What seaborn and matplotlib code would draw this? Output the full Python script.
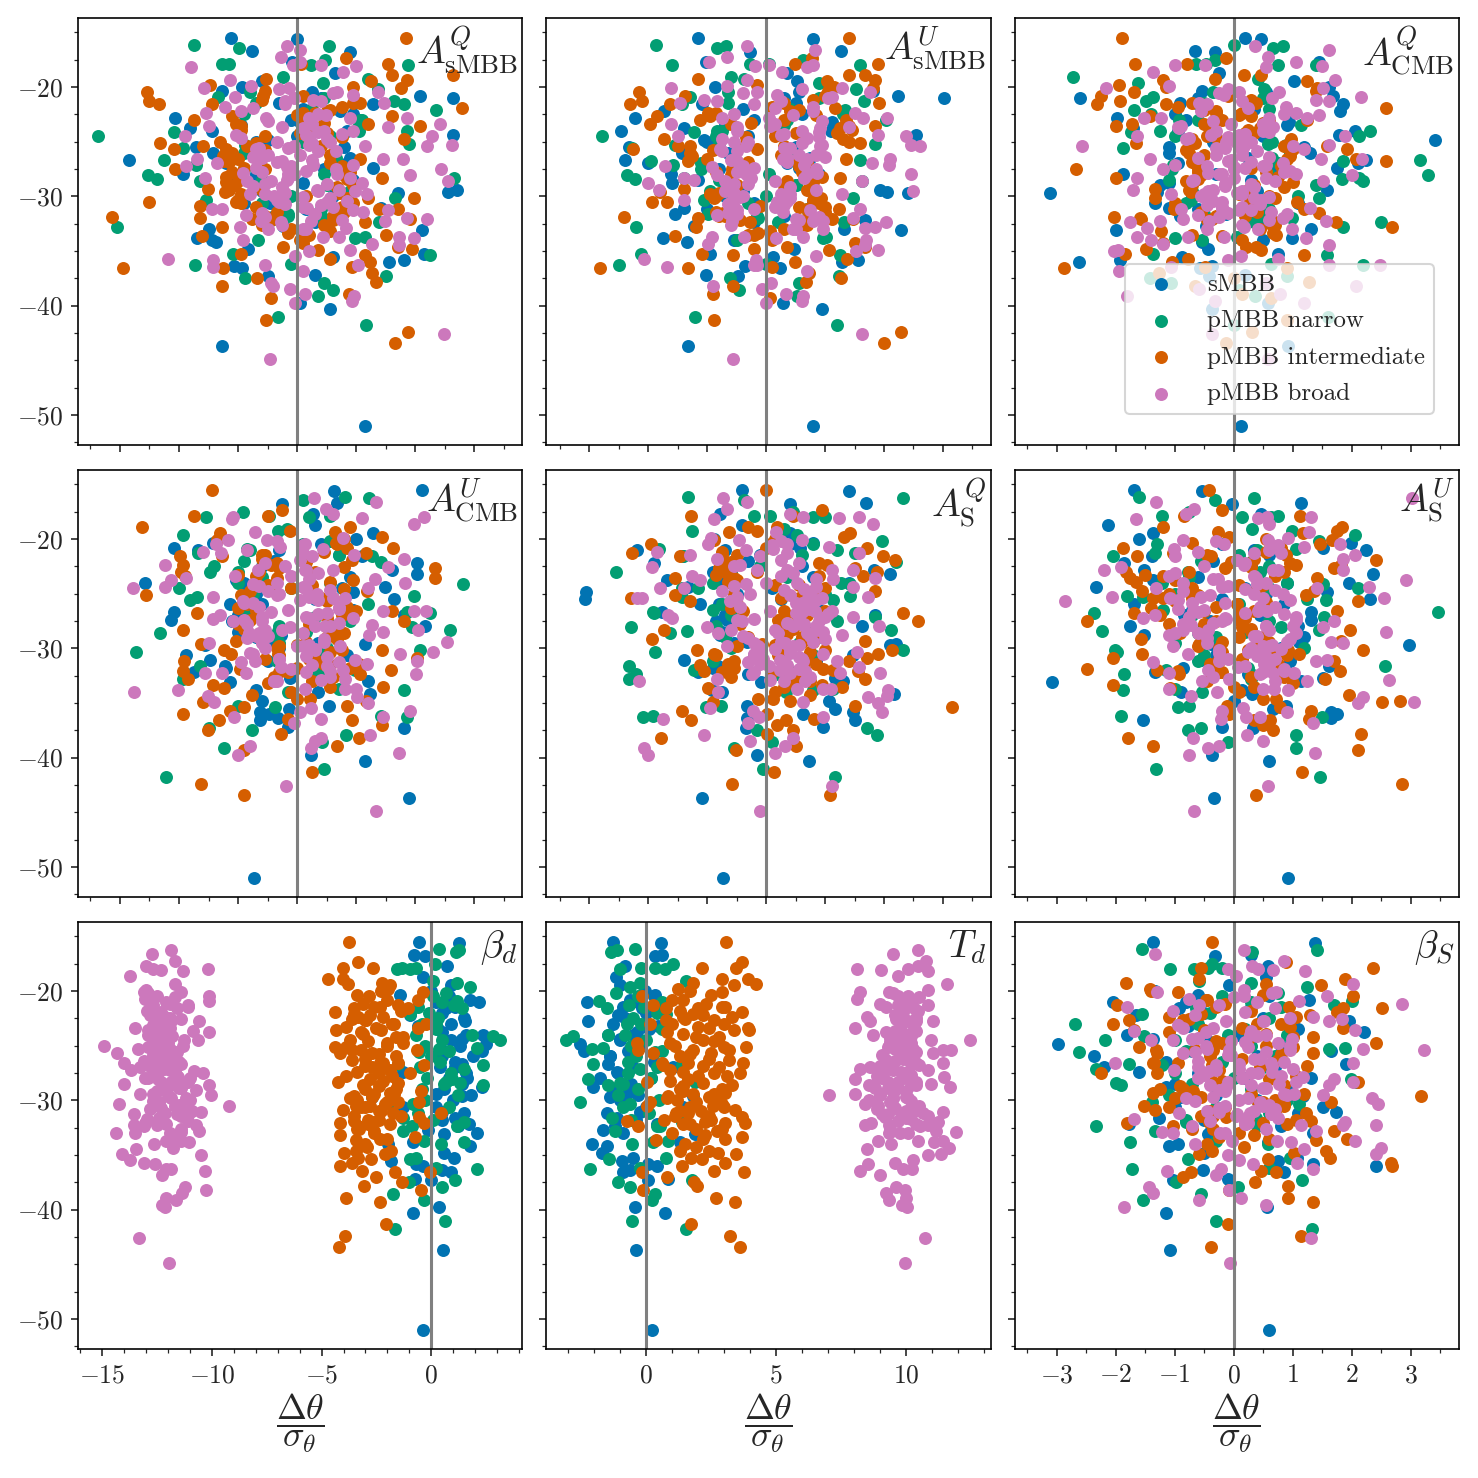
import pandas as pd
import matplotlib
matplotlib.use("Agg")
import matplotlib.pyplot as plt
import seaborn as sns
from matplotlib.ticker import MultipleLocator, FuncFormatter

BLUE_Y = [-51.0,-43.7,-40.3,-39.8,-37.3,-37.2,-36.6,-36.4,-36.0,-35.8,
-35.6,-35.3,-34.8,-34.2,-34.0,-33.8,-33.1,-33.0,-32.7,-32.2,
-31.6,-31.1,-30.6,-29.7,-29.6,-29.4,-28.8,-28.0,-27.4,-27.0,
-26.7,-26.0,-25.5,-24.9,-24.4,-24.0,-23.8,-23.2,-22.8,-22.2,
-21.6,-21.0,-20.8,-20.4,-20.0,-19.5,-18.7,-17.7,-16.8,-15.6,
-16.7,-15.5]
BLUE_P1 = [1.15,-1.27,.55,.05,-.49,.30,-.94,-1.07,1.56,1.81,
.6,2.14,-.83,-1.37,-1.45,-1.69,2.11,-1.5,-.24,-.44,
.38,1.41,-.46,1.71,2.56,2.70,.1,-1.93,1.29,.84,
-2.85,-1.42,-1.71,-.49,2.64,-1.45,-1.81,.05,-2.06,.72,
1.29,2.63,2.07,-1.27,-.94,-.6,.64,-.08,.89,0,
-.76,-1.12]
BLUE_P2 = [.79,-1.32,.94,.28,-.47,-1.02,.23,-.36,1.28,1.56,
.12,-.95,.47,-1.34,-.55,-1.75,2.28,1.32,-1.23,1.68,
-1.54,-1.40,-.21,2.40,2.05,1.93,-1.6,-1.61,.55,-2.0,
-2.39,-1.43,-2.33,-1.06,2.55,-2.46,-1.40,1.11,-2.22,-1.73,
-1.09,3.02,2.24,1.82,-.86,.53,.35,-1.02,-.27,.79,
1.27,-1.16]
BLUE_P3 = [.12,.93,-.36,.58,-.42,.2,-.57,-.36,-2.62,-1.92,
-.88,.75,-.44,-.53,.49,.99,-1.99,1.31,-.47,.44,
-.13,-1.1,-1.34,-3.11,-1.29,1.59,-1.09,-1.88,1.75,2.1,
2.25,-1.09,1.2,3.42,1.79,2.05,-1.71,.94,-1.98,1.81,
1.85,-2.6,1.69,-.53,1.61,1.03,-.24,1.45,-.31,.47,
-.65,.19]
BLUE_P4 = [-.73,1.90,1.14,.23,1.81,-.15,-.63,-.32,-.47,-.63,
-.14,.54,-.60,1.23,.36,-.69,-1.14,1.2,-.12,-1.75,
-1.23,-1.48,-1.88,-1.56,1.15,-.46,-.27,2.16,-2.13,1.80,
-2.08,-1.14,1.63,.95,1.49,-2.57,-1.03,2.02,1.6,2.02,
1.09,-1.68,-2.08,-1.42,.99,1.28,.30,.27,-.25,.62,
.68,2.12]
BLUE_P5 = [-.74,-1.09,.73,-.16,-.34,.96,1.51,-.33,.63,1.48,
1.17,-.32,1.06,2.17,-.75,-.92,-.09,1.31,1.17,-1.15,
-.81,-1.40,1.48,2.10,2.21,-.33,-.78,1.62,-.67,1.85,
-1.77,-1.13,-3.08,-3.06,-1.32,1.40,-1.69,2.11,1.83,-1.90,
-1.41,-2.19,.58,.80,-.89,.41,-.41,-.79,.40,1.41,
1.69,-.41]
BLUE_P6 = [.92,-.34,.60,-.36,.33,-.19,-1.53,1.65,1.76,1.65,
.66,.89,.01,.32,-.89,.15,-3.07,1.14,1.51,-1.34,
1.62,-.55,-.19,2.98,-.38,1.11,-1.51,-1.76,1.31,-.84,
1.31,-1.68,2.31,1.59,-2.33,1.96,-1.37,2.36,-1.51,-1.85,
-1.38,2.25,1.52,1.99,-1.60,-1.37,-2.12,.46,-.03,-.53,
1.15,-1.69]
BLUE_P7 = [-.36,.55,-.83,.36,0,-.76,.88,.5,-.39,-.68,
-1.85,1.03,.58,1.77,-1.95,-.83,.58,2.07,-.16,1.70,
1.10,.51,-1.28,-2.69,1.40,.21,2.29,1.62,-1.28,1.10,
1.40,.51,2.29,2.51,1.40,2.37,.51,-.61,1.55,-.98,
.65,2.17,1.77,-1.43,-.01,.88,-.39,.73,-.27,1.28,
-.80,-.54]
BLUE_P8 = [.21,-.40,.73,-.44,.08,.85,-.88,-.63,.40,.08,
-.95,-.50,-1.72,-1.53,-2.10,1.29,1.87,-.88,-1.68,.40,
-1.12,-.24,1.42,-1.40,1.81,-.76,-2.04,-1.78,-1.14,1.04,
-1.46,-1.40,-2.40,-2.55,-1.01,-1.46,-.37,.46,-2.26,-1.08,
-.18,-2.27,-.63,.33,-.05,-1.01,-1.17,-.82,.33,.55,
.59,-1.28]
BLUE_P9 = [.60,-1.07,-1.15,.56,-1.03,-.10,.86,-.51,2.42,1.34,
.76,1.08,-.50,-1.10,-.95,.58,-.43,1.35,-.38,-1.77,
-1.26,1.73,1.52,-.89,1.17,1.0,-1.15,1.31,-1.60,-2.19,
1.90,-2.37,1.65,-2.98,-1.37,-1.80,2.21,-.78,1.96,-1.66,
-.92,-2.05,1.28,-.61,-1.33,-.07,.55,.58,-.31,1.38,
.29,-1.36]

GREEN_Y = [-41.8,-41.0,-39.1,-38.6,-37.9,-37.5,-37.3,-36.3,-36.2,-35.4,
-35.3,-34.0,-33.8,-33.7,-32.8,-32.4,-32.0,-31.6,-30.3,-30.2,
-28.6,-28.4,-28.3,-28.1,-27.1,-26.8,-26.7,-25.6,-25.3,-25.2,
-24.5,-24.1,-24.0,-23.0,-22.1,-21.6,-21.3,-20.9,-20.2,-19.6,
-19.3,-19.1,-18.0,-18.0,-17.9,-17.9,-17.5,-16.4,-16.3,-16.2]
GREEN_P1 = [1.17,-.32,.35,.60,.46,-.89,1.50,-1.73,-.10,2.25,
-1.08,-.66,.97,1.14,-3.05,1.38,.44,-.15,-1.54,1.66,
-1.65,-2.37,2.65,-2.53,-1.71,.64,-2.25,-1.93,-.89,1.9,
-3.37,-2.09,1.85,1.07,2.35,1.81,1.63,-1.34,1.37,.44,
1.2,-.24,1.87,.24,-1.27,-1.16,.47,-.98,.54,-1.74]
GREEN_P2 = [1.21,-1.21,.53,-.46,.55,-.61,1.23,-2.5,0,1.25,
-2.12,-.49,.96,1.01,-2.2,1.32,-.13,-.98,-1.05,1.48,
1.62,-2.23,-1.4,-2.36,-1.58,-1.96,1.6,-2.28,-1.54,1.84,
-2.79,-1.23,-.84,2.04,1.33,-1.43,1.66,-1.29,1.53,.89,
-.37,-.6,1.59,-1.6,.05,-.27,.63,-.84,-.68,-1.87]
GREEN_P3 = [0,1.6,.37,.1,-1.06,-1.42,.9,2.19,.63,1.58,
-1.37,-.53,-1.0,.05,1.85,2.5,.99,-.5,-.72,1.45,
2.19,1.84,2.12,3.29,-1.03,1.86,3.16,-1.88,.89,.58,
2.12,-1.74,2.32,-.92,-1.68,-.61,-1.49,-1.37,.52,-1.62,
.42,-2.72,1.40,.76,-.63,-.46,-.31,.67,.83,.01]
GREEN_P4 = [-2.22,.45,-1.24,.42,.82,-.77,-1.50,1.86,1.41,-.38,
-1.0,-.15,1.80,.71,-1.93,.3,.98,-1.64,-2.73,2.07,
-2.33,-.32,2.59,1.94,.3,2.24,1.85,-1.81,-1.7,1.97,
-2.0,2.8,-1.0,-1.48,1.41,1.27,-1.68,-.85,.55,-1.93,
-.32,-.17,-1.55,.2,.55,-.48,-.91,.1,1.22,.81]
GREEN_P5 = [1.16,-.05,-.55,.1,1.88,-.16,1.71,-2.09,-1.92,-1.02,
-.76,.34,.80,1.14,-2.32,-2.21,-1.23,-2.32,-1.88,2.32,
-1.63,-1.34,2.12,-2.29,1.85,-1.91,-1.92,1.14,-1.43,1.42,
-1.43,1.42,1.27,-2.55,2.21,-1.41,1.51,-1.82,1.96,.52,
-1.25,.3,.8,1.0,.07,-.21,.45,-.37,2.32,-1.33]
GREEN_P6 = [1.47,-1.32,1.05,-.10,1.05,-.78,-.55,1.49,-1.90,-.95,
-.75,-.54,-1.87,-.99,.29,-1.85,-1.15,2.57,-1.97,-2.01,
-.6,-2.23,1.44,.8,1.54,-2.36,3.47,1.56,-1.54,-1.8,
2.1,1.51,-1.22,-.78,.3,-2.05,-1.34,1.06,1.44,2.05,
.99,.32,.15,.63,.75,-1.21,-.75,-.32,.34,-1.6]
GREEN_P7 = [-1.64,.63,-.31,-1.73,.51,-1.01,1.10,2.10,.21,-.98,
-.68,.43,1.47,-.31,-1.31,1.18,1.47,-1.28,-.83,-1.88,
2.37,1.32,.65,.95,1.47,2.34,-1.5,-.54,.36,2.07,
3.11,2.81,1.85,.21,-.98,1.40,1.03,1.18,.65,1.77,
1.18,.06,-.98,-1.58,-1.32,-.68,.16,1.13,1.25,.36]
GREEN_P8 = [1.55,-.55,.21,.33,-.63,-1.10,1.78,-2.17,-.24,-1.42,
.78,-.56,.27,.85,-1.21,.53,1.36,-1.33,-.63,-2.55,
-1.46,-1.01,1.87,-2.23,-.24,1.36,-2.04,.33,-2.10,-1.65,
-3.09,-2.83,-1.46,-.76,.78,-1.53,-.65,-1.81,-1.17,-.63,
-.24,1.52,.72,-1.01,-.21,.33,1.04,-1.37,-1.12,-.44]
GREEN_P9 = [1.33,-.29,-1.53,-.55,.07,-.97,1.16,-1.73,.6,-.78,
.96,.58,-1.75,-.3,-1.33,-2.33,-.81,.38,1.11,-1.38,
-1.9,-2.0,2.08,1.99,-2.33,-1.21,-1.77,-2.62,1.62,1.88,
-2.18,-1.51,-.1,-2.68,-1.56,-.64,1.71,2.0,.75,1.24,
.3,-.58,-1.07,-.67,-.44,-.2,-.37,.32,1.42,-1.56]

ORANGE_Y = [-43.4,-42.4,-41.3,-39.3,-38.9,-38.2,-37.8,-37.5,-37.0,-36.6,
-36.6,-36.5,-36.0,-35.7,-35.4,-35.3,-34.9,-34.8,-34.6,-34.6,
-34.3,-33.6,-33.5,-33.4,-33.2,-32.8,-32.4,-32.1,-32.1,-32.0,
-31.9,-31.5,-31.2,-31.2,-30.9,-30.5,-30.5,-30.2,-30.2,-29.6,
-29.3,-29.2,-28.3,-27.5,-26.8,-26.6,-25.7,-25.4,-25.1,-24.8,
-23.6,-23.4,-23.0,-22.7,-22.4,-21.9,-21.6,-21.6,-21.5,-21.3,
-20.8,-20.5,-20.1,-19.8,-19.5,-19.4,-19.3,-18.9,-18.9,-17.9,
-17.9,-17.4,-15.5]
ORANGE_P1 = [1.66,1.88,-.53,-.44,.88,-1.27,1.33,-.68,1.26,-2.95,
-1.25,.92,1.23,.56,1.15,-.95,.36,1.95,-.24,1.71,
.1,-1.61,1.5,-.15,.55,-1.27,1.15,-.77,1.91,-1.64,
-3.13,.78,1.39,1.71,-1.65,-2.51,-1.03,1.98,.84,-1.23,
-1.51,.67,1.43,-2.07,-1.25,1.06,-2.09,-1.59,-2.32,1.81,
2.08,-1.03,-1.75,1.6,.1,2.79,-2.34,-1.44,1.06,-2.51,
-.58,-2.55,1.75,-1.48,1.25,1.85,-.52,2.64,1.6,1.54,
.06,.82,1.84]
ORANGE_P2 = [2.0,2.29,-.89,.07,-.90,-.57,.67,1.27,.72,-2.82,
-1.32,.1,.49,1.38,-.57,-1.09,1.07,-.21,1.68,.36,
1.51,-1.55,-.3,-.13,.07,-1.19,-.27,1.11,1.48,-1.16,
-2.42,-.73,1.23,.69,-.11,-1.93,-1.69,.93,-.89,-1.8,
-1.4,.32,1.25,-.58,-1.32,1.36,-2.26,-1.29,1.6,-1.74,
1.85,-1.97,-1.13,-1.85,-.98,1.17,-2.31,-1.63,1.92,-2.11,
-1.37,-2.16,1.82,-.16,1.03,1.85,-1.16,1.68,1.4,1.89,
.49,.77,1.41]
ORANGE_P3 = [-.13,.32,.9,.63,.14,-.66,1.27,.01,-1.27,-2.87,
.9,-.48,-1.05,-.77,1.2,-1.84,.46,-1.49,.21,.38,
-1.2,-.19,.72,.66,-1.23,2.68,1.73,-.36,-1.57,-1.58,
-2.02,1.45,-1.01,1.2,.32,.27,1.08,-1.34,.27,-.72,
-1.34,.86,-1.99,-2.67,2.59,2.08,1.93,1.59,-1.66,.97,
-1.99,-1.73,1.25,-1.42,-.3,2.58,-2.32,-1.15,.38,-1.92,
-2.24,-1.68,1.42,-1.94,1.25,-1.2,-.31,.46,.18,-1.67,
-.79,-.13,-1.89]
ORANGE_P4 = [-.9,-1.62,.25,-.9,.67,1.05,-.28,-1.51,1.43,-1.32,
.93,-.15,-1.93,-1.14,-.9,.84,-1.59,1.16,-.01,.21,
-.77,-1.24,1.45,-1.42,-.49,-1.85,1.06,-1.94,-.15,1.58,
-.97,.56,-1.92,.33,2.02,-1.12,-.32,1.43,-1.24,-1.62,
-1.03,.67,-1.93,1.81,-1.69,1.6,.5,-.92,-2.56,1.18,
2.34,-1.9,-1.97,2.34,-1.93,.92,-1.28,-1.99,-.6,1.16,
1.62,.67,-1.35,1.43,-1.31,.64,-.12,-2.62,.89,-1.75,
-.49,-.25,-1.45]
ORANGE_P5 = [1.08,-.58,.14,-.51,.51,-1.79,.02,.45,.18,-1.27,
.33,.82,.01,-1.42,3.16,1.51,-.91,.4,-.13,.12,
.75,-.99,1.28,.94,.49,1.68,-.62,1.56,-1.06,1.13,
.97,-1.12,-.55,1.41,1.71,-.89,1.9,2.13,-1.18,-.07,
1.68,-1.93,-1.74,2.57,2.32,1.0,-1.29,-2.29,-1.54,1.85,
-1.55,1.65,1.88,1.51,1.03,2.19,1.99,-1.47,-.75,-2.28,
1.71,-1.95,-.89,1.32,1.42,-.63,-.16,.19,-.31,-1.27,
.46,.95,0]
ORANGE_P6 = [.38,2.86,1.16,2.11,-1.36,-1.79,2.16,.66,.49,.62,
.35,1.28,-.07,1.31,.79,-.11,2.51,2.82,.49,.72,
1.95,-1.07,.01,-2.05,1.0,1.55,-.92,1.8,-.95,-1.29,
-2.48,.71,1.71,-.24,-2.05,1.11,-1.55,.92,2.2,-.58,
1.82,-1.57,1.98,-2.49,-1.68,1.75,2.11,-1.37,1.23,1.37,
1.42,-1.2,-1.82,1.71,1.82,2.41,-1.63,-.38,.89,-1.03,
-1.87,1.47,1.67,-.07,1.17,-.27,1.76,1.83,-1.2,-.84,
1.12,-.19,-.41]
ORANGE_P7 = [-4.21,-3.91,-2.07,-2.35,-3.87,-.49,-3.07,-1.32,-2.5,-1.65,
-.06,-3.17,-4.15,-3.63,-2.74,-3.36,-2.1,-3.99,-3.44,-1.83,
-2.95,-3.44,-2.32,-.76,-4.17,-2.62,-3.36,-4.18,-.31,-2.65,
-3.51,-.57,-1.73,.43,-4.03,-3.44,-2.77,-.54,-1.5,-3.51,
-1.88,-.46,-4.26,-.98,-.34,-2.32,-4.18,-.64,-4.4,-1.28,
-4.33,-.61,-.24,-2.99,-3.36,-4.4,-1.06,-3.51,-2.32,-1.5,
-.61,-2.84,-.39,-1.95,-1.88,-3.81,-2.25,-4.7,-4.03,-2.65,
-4.03,-3.33,-3.76]
ORANGE_P8 = [3.6,3.22,1.74,3.41,2.67,-.12,1.94,1.85,.81,3.76,
-.18,2.6,1.38,3.05,2.15,1.74,3.45,2.77,1.29,2.41,
1.9,.36,3.03,3.67,2.26,2.71,-.33,3.79,3.03,2.26,
-.76,3.67,1.62,1.14,3.41,.04,2.58,2.71,.14,.85,
3.03,1.42,.01,3.6,.65,3.73,.27,-.31,3.86,-.37,
3.95,3.92,.14,.78,1.42,3.67,.78,2.0,3.03,.27,
1.42,-.18,2.9,1.23,3.38,4.21,1.81,3.92,2.9,2.15,
3.47,3.67,3.09]
ORANGE_P9 = [-.38,1.15,-.1,1.34,.92,-.07,.92,.36,-.86,.72,
-.73,.46,2.69,2.66,.58,1.63,-.59,1.03,-.37,1.56,
.18,1.4,1.92,-.24,.35,1.71,-1.03,.49,-1.8,-.41,
1.31,-.13,1.23,-.38,-1.34,-1.51,.86,1.65,.42,3.18,
-1.37,-.69,2.1,-2.24,-.36,-1.37,1.34,-1.32,-1.6,2.41,
-1.68,1.85,-2.05,-1.77,-1.09,1.75,2.51,1.86,.94,-1.97,
-.47,2.02,-.95,-1.42,1.48,.55,-1.82,1.88,-.58,2.36,
-.55,.88,-.37]

PINK_Y = [-44.85,-42.6,-39.8,-39.6,-39.1,-38.9,-38.5,-38.2,-37.9,-36.8,
-36.5,-36.3,-36.3,-35.8,-35.7,-35.5,-35.0,-34.9,-34.5,-34.4,
-34.0,-33.8,-33.7,-33.7,-33.7,-33.0,-33.0,-32.9,-32.8,-32.4,
-32.3,-32.3,-32.3,-32.1,-32.0,-31.7,-31.4,-31.3,-31.2,-31.2,
-31.1,-30.5,-30.3,-29.8,-29.8,-29.5,-29.4,-28.8,-28.6,-28.5,
-28.3,-28.1,-28.0,-27.9,-27.5,-27.3,-27.2,-27.1,-27.0,-26.6,
-26.6,-26.6,-25.7,-25.4,-25.4,-25.3,-25.0,-24.5,-24.5,-24.4,
-24.0,-23.8,-23.7,-23.6,-23.4,-22.8,-22.8,-22.8,-22.6,-22.4,
-21.8,-21.5,-21.3,-21.2,-20.9,-20.7,-20.5,-20.5,-20.1,-20.1,
-19.9,-19.4,-18.6,-18.2,-18.1,-18.0,-18.0,-17.7,-17.3,-16.6,-16.3]
PINK_P1 = [-.46,2.49,-.04,.93,.96,.14,-.12,-.41,-.45,.10,
-1.42,-.54,1.03,-1.42,-2.18,-.04,.2,.9,1.73,1.26,
-.92,1.97,.44,1.73,.71,-.49,.10,.82,-.96,-.28,
-.62,.24,1.49,2.2,1.85,-.87,1.12,1.54,-1.44,-1.27,
.16,.5,-.35,-.8,1.18,.98,.33,1.1,2.56,-.18,
-1.56,1.91,.67,-.92,2.44,-.18,-1.88,.27,-1.36,-1.7,
1.79,1.46,-.69,1.14,2.19,2.62,-.35,-1.9,2.28,-1.03,
.95,.1,1.54,-1.49,2.42,1.85,.89,-.52,.49,-1.54,
-1.22,1.47,-.21,.27,-1.06,.94,.67,1.37,-1.57,-.14,
-.79,-1.14,.78,-1.79,1.0,.41,-.07,.05,-.28,.05,-.17]
PINK_P2 = [-.57,1.62,0,.60,.62,.33,-.07,-.91,.08,.69,
-1.69,-.16,-.21,-.17,-2.08,.85,1.53,1.89,1.68,-.98,
1.70,.16,-.92,.63,-.37,.46,.96,1.68,1.85,2.03,
.80,-.58,.97,.51,1.48,-.84,.29,-.5,1.59,-.21,
-.61,.18,-1.40,.41,1.28,2.49,-1.81,-2.01,1.62,-1.23,
-1.39,-.84,2.46,.86,-.44,-.92,-1.71,2.09,1.80,.29,
.69,2.10,-.78,.92,2.61,2.45,-.3,2.38,-1.49,1.9,
-.5,.92,1.4,.07,-1.62,1.64,2.05,-.75,.46,1.5,
.80,-1.46,-.84,-1.06,1.11,.18,-.16,1.77,1.28,-1.62,
-.67,-.33,.27,.69,-.19,.05,.80,-.97,-.66,.83,-.32]
PINK_P3 = [.59,-.36,1.2,-.31,-1.8,.79,-.58,2.08,.55,-1.94,
-1.06,1.61,2.48,-.10,.75,.12,-2.03,-1.96,1.61,-1.2,
-1.4,1.23,-.16,-.77,-1.64,.41,.99,-1.46,.18,-1.76,
-1.25,-.41,1.56,-.86,.83,-.6,.63,.29,-.89,-.19,
1.3,-.41,.46,-1.06,.15,-.44,-1.71,-.13,1.51,-.67,
-1.63,2.0,1.06,-.43,-1.2,.01,.49,-1.0,.83,-1.42,
1.48,2.17,1.2,-2.57,.18,1.62,-.13,-1.63,1.88,-.38,
.49,-.92,.66,-.89,-.05,1.25,-1.51,-1.23,1.45,1.06,
.89,-.58,1.62,1.4,2.16,-.16,.10,.77,1.51,-2.16,
-1.09,1.72,-1.37,.55,1.5,-.49,-.99,1.06,.59,1.61,.36]
PINK_P4 = [1.34,-.19,-1.0,1.72,.23,-.8,.3,.41,1.24,-.06,
.4,1.46,-1.07,.05,1.91,.23,1.19,-1.41,1.01,-1.51,
-2.76,-2.01,.14,.81,.99,-.4,-.35,.4,.81,2.01,
-.86,-1.56,-1.27,.55,.78,-.27,1.18,-.95,2.02,-.72,
.98,1.74,2.29,.72,.10,-1.5,2.54,1.22,-.82,1.46,
2.04,-.12,.47,1.26,-1.08,-1.42,.95,-.6,-1.31,2.18,
1.98,1.46,-.92,.81,.61,-1.42,.33,-2.78,1.2,-2.23,
1.83,-2.13,1.32,-1.89,-1.05,.13,-.66,.61,1.54,-2.23,
1.81,.96,-1.29,-1.59,.44,-.29,-1.38,.13,-.51,-1.17,
.77,-.71,1.98,-1.1,1.1,-1.08,2.15,.6,.48,1.33,.29]
PINK_P5 = [-.1,1.11,-2.01,.15,-2.08,.32,-.28,.46,-1.05,-.31,
-1.75,.97,-.12,1.96,-.23,-.95,1.9,.62,1.72,2.05,
-.82,2.06,.52,.96,1.1,.66,-2.15,.07,-.84,-.24,
.41,1.25,1.93,.66,.24,1.58,-.1,-.3,1.2,.63,
.24,.97,1.54,-.66,-.13,.32,.8,1.28,-.82,.97,
.15,-1.0,1.92,.63,-.41,-.21,-1.6,1.47,-1.66,.83,
1.11,.07,-.61,-2.19,-2.11,1.72,-.27,-1.8,-1.4,1.48,
.52,-1.12,1.14,1.84,-1.26,-.16,1.11,1.48,-1.94,-.44,
-.84,-1.29,1.58,-1.85,.12,1.06,.35,-.98,.6,-.46,
-.93,.16,1.82,-.89,1.23,1.58,.62,.4,-.66,-.32,-.73]
PINK_P6 = [-.67,.58,-.75,1.38,-.43,-.25,.49,-.69,.23,1.34,
-.21,.21,.44,.9,-.19,.16,2.1,3.06,2.19,-.72,
-.28,.93,.49,.69,-1.09,-.53,1.24,2.63,-.07,.44,
.66,1.03,-1.09,.86,-.43,.07,.52,-1.37,1.39,-.24,
1.59,-.78,.24,-1.03,.6,1.85,1.65,-1.09,1.06,2.59,
-.44,1.51,.55,-.72,1.71,-.13,-1.54,1.06,-1.34,.56,
-.69,.41,-2.85,-1.08,2.55,-2.06,.83,-1.31,1.41,2.3,
-.86,2.93,-.27,.38,-1.09,.66,1.86,-2.2,-1.91,.18,
1.85,2.06,.8,-.61,-1.01,1.19,1.8,-.16,.58,-.86,
.92,1.28,.6,-1.66,.41,.56,1.32,-.81,-.67,-1.31,3.02]
PINK_P7 = [-11.95,-13.3,-12.14,-12.29,-11.62,-12.07,-11.37,-10.28,-11.22,-12.29,
-10.31,-12.07,-11.85,-12.59,-13.08,-13.75,-10.51,-14.08,-13.44,-11.77,
-12.62,-11.03,-12.07,-11.4,-11.7,-13.51,-14.38,-11.4,-10.58,-13.11,
-13.56,-12.52,-10.74,-13.04,-12.52,-12.96,-11.4,-13.56,-12.14,-11.03,
-10.51,-9.2,-14.23,-11.85,-12.59,-10.06,-13.26,-11.4,-10.14,-14.0,
-11.85,-12.44,-13.04,-11.55,-10.4,-10.8,-13.7,-12.44,-13.26,-12.0,
-12.74,-14.0,-14.3,-11.85,-12.37,-13.38,-14.9,-10.65,-11.25,-12.59,
-12.0,-10.14,-10.88,-12.89,-13.48,-11.85,-12.44,-10.58,-11.4,-12.14,
-12.96,-11.1,-11.1,-11.92,-10.14,-13.04,-12.52,-10.14,-11.4,-13.1,
-13.0,-11.7,-13.75,-11.32,-12.32,-10.18,-12.67,-12.99,-11.7,-12.71,-11.88]
PINK_P8 = [9.95,10.74,10.05,9.86,9.35,10.01,9.24,9.95,9.63,8.99,
8.24,9.88,10.24,8.54,9.6,10.29,10.85,11.36,8.51,11.68,
9.44,11.1,11.42,10.46,8.92,9.76,9.37,11.94,11.17,10.53,
9.37,10.85,8.41,8.67,11.23,10.21,10.85,9.31,10.65,9.82,
11.42,8.92,8.44,10.08,9.5,7.06,8.03,11.71,8.6,10.97,
10.4,8.03,9.12,11.49,9.95,9.05,10.85,8.24,8.63,11.42,
9.5,10.4,11.04,11.74,11.42,10.27,9.37,12.47,10.97,9.88,
8.73,9.24,10.4,9.82,8.05,8.63,11.04,10.4,9.63,8.5,
10.46,9.24,10.85,8.99,10.21,8.12,9.69,10.08,8.24,9.37,
10.85,11.58,9.69,10.85,9.05,10.08,8.12,10.46,10.78,9.5,10.46]
PINK_P9 = [-.06,1.32,-1.85,.55,-.59,.12,-1.37,-.07,-1.43,-.3,
-1.12,1.35,-.21,.33,1.08,.1,-.1,2.42,1.19,2.49,
-.66,.97,-.02,2.06,.73,-.23,-1.03,-1.21,1.4,-.71,
1.14,1.85,2.42,.24,1.89,-1.68,.04,.64,.27,-.92,
-.24,.49,2.44,2.34,-.81,1.51,1.03,-.13,1.62,.77,
2.03,1.71,.15,1.17,.41,-.41,-1.01,1.0,-.61,2.02,
-2.01,.63,-.86,3.23,-.07,2.19,-.47,-1.4,-1.03,.99,
.27,-.47,-1.68,2.05,-.86,1.62,-.13,.52,1.83,1.34,
-1.03,-1.8,-.58,2.86,1.11,-.75,1.59,.18,.72,-1.29,
.18,2.02,.04,1.21,.66,.41,-.1,.31,.85,-1.33,.17]

CORE_BG_Y = [-32.4,-31.8,-31.2,-30.6,-30,-29.5,-29,-28.5,-28,-27.5,-27,-26.5,
-26,-25.5,-25,-24.5,-24,-23.5,-23,-22.5,-22,-21.5,-21,-20.5]
CORE_BLUE = [
[.3,-.4,.15,-.9,.6,-.6,-1.1,.95,-.7,.45,-1.2,.9,-1.2,.8,-.7,.0,.85,-.95,-.1,.95,.1,-.3,.4,.25],
[-.2,.3,-1.0,.8,-.7,-.4,.5,-1.15,.9,-.8,.35,.75,-.65,.5,-1.0,-.3,1.1,-.7,-.2,.6,-.4,.5,.3,.55],
[.55,-.9,-.6,1.1,-.7,.4,-1.25,.3,-.3,.7,-.95,.25,1.3,-1.1,-.35,.5,-.95,.9,-.8,-1.0,.35,-.9,-.6,.55],
[.4,-1.2,-.5,.85,-.3,.35,-.7,-1.0,.6,-1.1,-1.0,.95,-.6,.3,-.7,.75,-.9,.9,.2,-.6,-.4,.7,-.3,.4],
[-.3,-.9,.85,-.2,.3,-.55,.95,-.75,.45,-.85,-.7,.9,-.8,.25,-.5,.1,-.75,.8,-.9,.6,-.3,-.1,-.7,.4],
[.25,-.85,.95,-.3,.8,-.25,1.2,-.55,1.1,-.4,.45,-.7,.85,-.2,.55,.2,.9,-.6,.7,.3,-.35,.6,.35,-.2],
[1.2,.5,1.5,.2,1.0,1.8,.6,1.4,.8,1.6,.4,1.1,1.9,.6,1.3,.9,1.6,.3,.9,1.5,.5,1.1,.2,.8],
[-1.2,-.4,-1.5,.0,-1.0,-.3,-1.3,-.6,.2,-1.1,-.5,.3,-1.4,-.7,-.2,-1.0,-.5,.1,-1.3,-.8,.0,-.9,-.3,.3],
[.8,-.5,1.1,-1.0,.4,-.3,.9,-1.0,.2,-.6,.7,-1.15,.4,-.7,.8,-.45,.1,1.1,-.9,.5,-.5,.3,-.8,.6],
]
CORE_GREEN = [
[.5,-.15,.4,-.6,-.1,.9,.5,-.6,.45,-.9,.6,.65,-.9,-.85,.1,.55,1.05,1.05,1.1,-.9,.25,-.7,.45,-.8],
[.2,-.15,.7,-.3,.0,-.95,.5,-.8,.05,-1.1,-1.1,-1.3,.35,-.8,-.8,-.85,-.75,.3,.35,1.3,.4,-.65,.9,-.65],
[.35,.5,.6,-.8,1.1,-.7,1.4,-1.1,.6,-1.05,.75,.65,.95,.9,.65,-1.0,-1.25,1.15,-.6,-1.4,.6,-.5,.5,-.35],
[.3,.45,-.35,.4,.5,-.3,-.35,.15,-.3,.9,-.7,-.85,1.2,.5,-.75,-.1,.55,-.6,-1.0,-1.4,-.9,.7,-.8,.1],
[.2,.35,-.9,.8,-.6,.55,-.7,.7,-.85,1.2,-.6,-.9,-.75,.6,1.0,-1.15,-.9,.35,-.6,-.1,-.55,.6,1.2,.8],
[.3,.25,-.6,-.5,1.2,-1.0,-.3,.2,-.5,.6,-.7,-1.2,.1,1.25,-1.0,.6,.9,-.75,.45,.6,-.55,.1,.4,-1.3],
[-.9,.1,-.6,.8,-.3,1.2,-.4,.6,-.2,.9,-.5,.4,.0,.8,-.3,.5,-.7,.2,-.4,.3,-.1,-.6,.5,.1],
[.4,-.6,.1,-.9,.5,-1.1,-.3,-.9,.2,-.7,.4,-.7,-.4,.6,-.6,.0,-.8,.6,-.2,-.5,.4,-.1,.6,-.3],
[.4,-.8,.6,-.3,.9,-1.1,.3,-.7,.0,-1.0,.5,-.2,.7,-.8,.3,-1.0,.9,.2,-.6,.6,-.4,.8,.3,-.2],
]
CORE_ORANGE_Y = [-32.6,-32.2,-31.8,-31.4,-31,-30.6,-30.3,-30,-29.7,-29.4,
-29,-28.7,-28.4,-28.1,-27.8,-27.5,-27.2,-26.9,-26.6,-26.3,
-26,-25.7,-25.4,-25.1,-24.8,-24.5,-24.2,-23.9,-23.6,-23.3,
-23,-22.7,-22.4,-22.1,-21.8,-21.5,-21.2,-20.8,-20.4,-20,
-34,-33.5,-33,-32.6,-32.2,-31.8,-31.4,-31,-30.6,-30.2,
-29.8,-29.4,-29,-28.6,-28.2,-27.8,-27.4,-27,-26.6,-26.2,
-25.8,-25.4,-25,-24.6,-24.2,-23.8,-23.4,-23,-22.6,-22.2]
CORE_ORANGE = [
[-.6,-.45,.6,.8,-.7,-.95,-1.0,.15,.7,-1.15,-1.05,-1.2,.85,.8,-1.1,-.55,.75,-1.15,-1.22,-1.25,
 -1.1,-1.2,-.85,-.7,.2,-.55,.05,-.95,-.95,.45,.1,-1.1,.3,.55,.75,.95,-.6,.1,-.55,.95,
 .05,.2,-.1,.45,.6,-.55,-.35,.75,.95,1.2,-.95,-.6,.95,-1.0,-1.2,.9,-.9,.55,-1.0,.55,
 -.55,.4,-1.3,.75,.5,.3,1.2,.15,.0,.5],
[.7,.65,-.8,-.85,1.0,.9,.8,-.85,-.8,.3,.3,.8,-.6,-.6,.6,-.35,.55,-.3,.55,-1.25,
 -1.3,-.15,-1.5,-.35,1.3,.15,1.2,1.45,1.4,-.25,1.35,-.95,-.85,.55,.1,.3,.8,1.0,1.05,1.15,
 .1,-.2,.3,.65,-.45,-.7,1.0,.55,.2,.9,-.95,.7,-.5,.35,.95,-.85,-.4,.7,-1.0,.25,
 -.9,.3,1.4,-.35,.5,1.25,-.6,.3,.85,.4],
[.7,.65,-.3,.4,.35,.3,-.4,.6,.25,.25,-.7,1.0,-.6,-.55,.55,-.6,.8,-.7,-.55,.95,
 -.75,1.0,.95,-.65,-.7,-.45,.35,.25,-.35,.5,-.2,.3,.15,-.5,-.95,-.7,.3,-.1,1.4,-1.15,
 .15,-.7,.45,.65,-.45,.2,-.55,.35,-1.0,.7,.1,-.75,.35,-.8,.75,-.6,.3,-.65,.9,-.5,
 -.8,.85,.95,-.3,.2,.45,-.5,.6,.1,-.3],
[-.4,-.15,.0,1.05,.2,-.3,.55,-.35,.0,.15,-.65,.7,.6,.55,-1.0,-.9,.5,.9,1.0,-1.0,
 -.85,-.9,.4,-.95,-.8,-.1,.25,.55,-.35,-1.0,-.65,-.3,-.45,.15,-.6,-.55,.45,.85,.65,.8,
 -.1,.55,.25,.6,-.3,.9,.45,-.55,.25,.75,-.3,-.6,.5,.8,-.9,.2,-.8,.75,-.7,.85,
 -.85,.6,-.35,.8,-.5,.95,-.7,.3,.8,-.35],
[-.6,.1,.65,-.65,.7,-.85,.75,.3,.15,.8,.6,.35,.3,.3,.25,.25,.3,.5,.3,-.6,
 -.5,.55,.55,.85,.8,1.0,.55,-.65,-.55,-.85,-.7,-.8,-.65,-.6,-.75,-.5,-.75,.0,.1,.15,
 .15,.3,.75,.5,-.75,-.55,.85,.3,.2,1.0,-.5,.6,-.3,.95,.45,-.45,.2,.7,-.4,.6,
 .55,.25,-.55,.85,.15,-.5,.9,-.15,-.6,.9],
[.3,-.2,.55,.75,-.25,.9,-.2,-.25,.4,.6,.1,-.5,.3,.15,-1.1,-.3,.2,.1,-.5,-1.4,
 .05,-1.0,-1.2,-.6,-1.55,-.7,.5,-1.65,-1.75,-1.5,.85,-.15,1.05,-.05,.35,-.45,.55,.8,-.7,.55,
 .1,.35,-.45,.85,-.25,.55,-.4,.15,.7,.25,-.6,-.2,.5,-.9,.3,-.5,.1,-1.25,.35,-.3,
 .55,-.7,-1.1,.4,.1,-1.0,.7,-.75,.3,.95],
[-3.3,-2.9,-2.4,-3.5,-2.3,-3.0,-2.1,-3.4,-2.7,-1.7,-3.0,-2.4,-1.5,-2.8,-3.9,-2.4,-1.9,-3.0,-2.2,-3.6,
 -1.6,-2.7,-3.2,-3.9,-2.0,-3.7,-1.3,-3.1,-2.3,-3.9,-1.8,-3.0,-2.2,-3.5,-1.4,-2.6,-3.1,-2.0,-3.4,-2.3,
 -3.0,-2.0,-2.6,-3.4,-1.9,-2.9,-1.4,-2.4,-3.2,-2.0,-3.7,-2.6,-1.6,-3.1,-2.2,-1.8,-3.4,-2.7,-1.5,-3.0,
 -2.4,-3.6,-2.0,-2.9,-1.6,-3.2,-2.5,-1.7,-3.6,-2.8],
[1.9,1.4,2.5,1.1,2.1,1.7,2.9,1.2,2.4,1.8,2.9,1.4,2.2,1.6,3.1,2.6,.9,2.2,1.6,3.2,
 1.3,2.5,1.8,3.0,.9,2.2,2.8,1.4,3.4,2.0,1.0,2.6,3.3,1.8,1.3,2.9,2.3,1.0,2.5,1.7,
 1.5,2.2,1.0,2.9,1.7,.7,2.4,1.3,3.0,1.9,.8,2.6,1.3,3.3,.9,2.0,1.4,2.8,.6,2.4,
 1.7,3.2,1.1,2.6,1.9,.8,2.4,3.0,1.5,2.2],
[-.35,.2,1.05,-.35,-.4,-1.1,.85,.7,-.55,1.2,-1.25,-.9,-.35,.6,-.4,-1.3,-.25,1.25,-1.35,.75,
 -.4,-1.3,-.35,1.0,-.2,.25,1.35,.55,-.5,.95,.4,-.85,1.05,-.55,.3,-.3,-.15,-.45,.5,-1.4,
 -.45,.6,.1,-.7,.9,.25,-.55,.7,-.15,.5,-1.0,.3,-.85,.85,-.2,1.05,-.55,.45,-.95,.15,
 .8,-.65,.55,-.3,1.0,-1.1,.15,.8,-.75,1.3],
]
CORE_PINK_Y = [-31.5,-31,-30.8,-30.5,-30.2,-30,-29.7,-29.4,-29.1,-28.9,
-28.6,-28.3,-28,-27.8,-27.5,-27.2,-26.9,-26.7,-26.4,-26.2,
-25.9,-25.6,-25.4,-25.1,-24.8,-24.6,-24.3,-24,-23.7,-23.4,
-23.1,-22.8,-22.5,-22.2,-21.9,-21.6,-21.3,-21,-20.6,-20.2,
-33,-32.6,-32.2,-31.9,-31.6,-31.3,-31,-30.7,-30.4,-30.1,
-29.8,-29.5,-29.2,-28.9,-28.6,-28.3,-28,-27.7,-27.4,-27.1,
-26.8,-26.5,-26.2,-25.9,-25.6,-25.3,-25,-24.7,-24.4,-24.1]
CORE_PINK = [
[-.6,.1,.4,-.3,.55,-.4,-.2,.7,-.75,-.55,-.85,-.15,-.05,-.6,.65,-.1,-.35,.25,-.75,-.5,
 .35,-.65,-.05,.25,.5,.2,.75,.45,-.25,.25,-.5,.2,.35,-.95,-.75,-.2,.4,-.05,.6,-.3,
 .15,-.25,.75,-.55,.3,.95,.6,-.2,.85,.1,-.55,.35,-.25,.5,-.45,.9,-.15,.15,-.7,.95,
 -.25,-.6,.05,.65,-.15,.2,.55,-.95,.15,.35],
[-.65,-.55,.3,-.6,.4,-.4,-.55,.85,-.6,-.3,-.7,-.25,.7,-.5,.85,-.4,.35,-.6,1.0,.55,
 -.5,.3,-.35,.6,-.75,.9,.3,.6,-.5,.15,.95,.05,-.55,.8,.15,-.2,.25,1.05,-.4,.6,
 .5,-.6,.55,.9,-.5,.75,.15,-.65,.35,-.45,.25,-.7,.4,-.55,.15,.65,-.35,.85,-.2,.65,
 -.5,.35,.85,-.75,.4,.95,-.55,.7,.25,.9],
[-.1,.15,-.45,-.2,.35,-.55,.05,-.35,-.15,.3,-.7,.55,-.2,.85,.0,-.45,.3,-.05,.6,-.3,
 .15,-.15,1.0,.05,-.8,-.1,.2,-.3,-.95,.5,-.35,.6,.85,-.55,.25,-.45,.15,.65,-.25,-.1,
 -.45,.15,.6,-.25,.9,.1,-.2,.45,-.35,.6,-.5,.15,.35,-.15,.7,.0,-.25,.95,.2,.55,
 -.1,-.6,.15,.4,-.3,.1,.3,-.75,.1,.6],
[.25,-.3,.5,-.75,.3,-.55,.2,.45,-.85,-.5,-.65,-.25,.55,-.85,-.6,.2,.35,-.45,.7,-.65,
 -.75,.05,.3,-.35,-.5,.15,-.65,-.35,.2,-.1,.35,.15,-.2,-.55,.05,.25,.1,-.85,.1,-.35,
 -.4,.55,.15,-.1,.5,.7,-.3,.15,-.8,.3,.0,-.6,.45,-.7,.1,-.55,.3,.7,-.9,.15,
 .5,-.15,.7,-.9,.35,.2,-.3,.55,.1,-.75],
[.35,-.05,.55,-.2,.4,-.1,.55,.25,-.3,.75,.2,.85,.45,.65,.9,.55,1.05,.6,.75,.55,
 .5,.7,.95,.4,-.75,.65,-.55,.0,.85,.25,.45,.35,-.55,.55,.25,-.1,.35,-.35,.1,.25,
 .3,.75,-.2,.55,.05,.3,.6,-.15,.4,.15,.45,-.2,1.0,-.4,.7,-.6,.85,.35,-.5,1.0,
 .5,.65,-.45,.6,.85,-.5,.75,.3,.85,-.35],
[.6,.7,.55,.45,-.25,.3,.65,.9,-.45,.4,-1.0,.6,1.0,-.85,-.2,-.15,.85,-.6,-.95,.45,
 -.7,-.95,.5,-.4,-.85,.2,-.1,.55,-.35,.35,-1.0,.75,-.5,.2,.05,-1.0,.35,.6,.75,-.3,
 .7,-.35,.5,.85,.2,.55,-.1,.4,-.25,.8,.5,-.45,.95,.35,-.6,-.85,.55,-.35,1.05,-.75,
 .2,-.5,.7,-.15,.95,-.55,.35,.7,-.2,.4],
[-12.3,-11.2,-12.8,-11.7,-12.4,-11.0,-11.9,-12.7,-10.7,-11.5,-12.2,-11.1,-12.9,-11.6,-12.5,-11.9,-12.8,-11.4,-13.1,-12.1,
 -12.7,-11.6,-12.3,-12.9,-12.0,-12.6,-12.2,-12.9,-12.4,-11.9,-12.7,-12.2,-11.9,-12.8,-12.3,-11.6,-12.7,-12.1,-11.7,-12.9,
 -11.9,-11.4,-12.1,-11.1,-12.4,-11.6,-10.9,-12.3,-11.5,-12.7,-11.2,-12.0,-12.5,-11.4,-11.9,-12.3,-11.0,-12.6,-11.7,-12.2,
 -12.9,-11.5,-12.4,-11.9,-12.1,-12.7,-11.3,-12.5,-12.0,-11.8],
[9.2,10.0,8.9,10.5,9.4,8.6,10.0,9.0,9.6,8.8,10.2,9.3,9.9,8.9,10.1,9.5,9.0,10.2,9.6,9.2,
 10.0,10.4,9.7,9.3,10.2,9.8,9.4,10.1,9.6,10.3,9.8,10.1,10.4,9.6,9.9,10.3,9.7,10.0,10.5,9.5,
 10.1,9.4,10.4,9.7,10.0,9.1,10.3,9.6,8.9,10.2,9.5,9.0,10.0,9.3,10.4,9.7,9.1,10.2,9.8,9.3,
 10.5,9.5,9.9,9.1,10.3,9.6,10.1,9.4,9.9,10.2],
[.25,-.45,.7,-.15,.45,.1,-.35,.85,-.25,.55,.3,-.1,-.6,.8,.3,-.3,.65,.1,-.6,.45,
 -.05,-.65,.95,.25,.75,-.05,-.6,.55,.3,-.35,-.95,.5,.95,-.65,.2,.7,-.25,.4,.0,.65,
 -.15,.55,.2,-.4,.75,.05,.35,-.25,.6,-.65,.25,.9,-.15,.5,-.4,1.05,.15,-.5,.65,.1,
 -.3,.85,.35,-.1,.55,-.45,.95,.2,-.7,.4],
]

SERIES_NAMES = ["sMBB", "pMBB narrow", "pMBB intermediate", "pMBB broad"]
SERIES_COLORS = ["#0173b2", "#029e73", "#d55e00", "#cc78bc"]
SERIES_Y = [BLUE_Y + CORE_BG_Y, GREEN_Y + CORE_BG_Y, ORANGE_Y + CORE_ORANGE_Y, PINK_Y + CORE_PINK_Y]
EDGE_X = [
    [BLUE_P1, GREEN_P1, ORANGE_P1, PINK_P1],
    [BLUE_P2, GREEN_P2, ORANGE_P2, PINK_P2],
    [BLUE_P3, GREEN_P3, ORANGE_P3, PINK_P3],
    [BLUE_P4, GREEN_P4, ORANGE_P4, PINK_P4],
    [BLUE_P5, GREEN_P5, ORANGE_P5, PINK_P5],
    [BLUE_P6, GREEN_P6, ORANGE_P6, PINK_P6],
    [BLUE_P7, GREEN_P7, ORANGE_P7, PINK_P7],
    [BLUE_P8, GREEN_P8, ORANGE_P8, PINK_P8],
    [BLUE_P9, GREEN_P9, ORANGE_P9, PINK_P9],
]
CORE_X = [CORE_BLUE, CORE_GREEN, CORE_ORANGE, CORE_PINK]
PANEL_LABELS = [r"$A^{Q}_{\mathrm{sMBB}}$", r"$A^{U}_{\mathrm{sMBB}}$", r"$A^{Q}_{\mathrm{CMB}}$",
                r"$A^{U}_{\mathrm{CMB}}$", r"$A^{Q}_{\mathrm{S}}$", r"$A^{U}_{\mathrm{S}}$",
                r"$\beta_{d}$", r"$T_{d}$", r"$\beta_{S}$"]
XLIMS = [(-3.71, 3.81), (-3.73, 3.81), (-3.71, 3.82),
         (-3.71, 3.81), (-3.73, 3.81), (-3.71, 3.82),
         (-16.1, 4.15), (-3.85, 13.27), (-3.71, 3.82)]
XMAJOR = [1, 1, 1, 1, 1, 1, 5, 5, 1]
XMINOR = [.5, .5, .5, .5, .5, .5, 1, 1, .5]

sns.set_style("ticks")
plt.rcParams.update({
    "font.family": ["cmr10", "DejaVu Sans"],
    "mathtext.fontset": "cm",
    "axes.unicode_minus": False,
    "axes.formatter.use_mathtext": True,
    "xtick.direction": "out", "ytick.direction": "out",
    "xtick.bottom": True, "ytick.left": True,
    "axes.edgecolor": "black", "axes.linewidth": 0.8,
})

fig, axes = plt.subplots(3, 3, figsize=(10, 10))
fig.subplots_adjust(left=78/1478, right=1459/1478, top=1-18/1478, bottom=1-1349/1478,
                    wspace=0.054, hspace=0.0585)
fmt = FuncFormatter(lambda v, _: f"${v:g}$")

for i, ax in enumerate(axes.flat):
    for k, (name, color, ys) in enumerate(zip(SERIES_NAMES, SERIES_COLORS, SERIES_Y)):
        xs = EDGE_X[i][k] + CORE_X[k][i]
        df = pd.DataFrame(list(zip(xs, ys)), columns=["x", "y"])
        sns.scatterplot(data=df, x="x", y="y", ax=ax, color=color, s=40, linewidth=0,
                        label=name, legend=False)
    ax.axvline(0, color="gray", lw=1.5)
    ax.set_xlim(*XLIMS[i])
    ax.set_ylim(-52.75, -13.7)
    ax.xaxis.set_major_locator(MultipleLocator(XMAJOR[i]))
    ax.xaxis.set_minor_locator(MultipleLocator(XMINOR[i]))
    ax.yaxis.set_major_locator(MultipleLocator(10))
    ax.yaxis.set_minor_locator(MultipleLocator(2.5))
    ax.xaxis.set_major_formatter(fmt)
    ax.yaxis.set_major_formatter(fmt)
    ax.tick_params(which="major", labelsize=12.5, length=3.5, width=0.8)
    ax.tick_params(which="minor", length=2, width=0.6)
    ax.tick_params(labelbottom=i >= 6, labelleft=i % 3 == 0)
    ax.set_ylabel("")
    if i >= 6:
        ax.set_xlabel(r"$\dfrac{\Delta\theta}{\sigma_\theta}$", fontsize=17.5, labelpad=2)
    else:
        ax.set_xlabel("")
    ax.text(0.99, 0.985, PANEL_LABELS[i], transform=ax.transAxes, ha="right", va="top",
            fontsize=18.7, zorder=5)

axes[0, 2].legend(loc="lower left", bbox_to_anchor=(110/444, 31/427), borderaxespad=0,
                  fontsize=12.2, labelspacing=0.56, handletextpad=0.72, handlelength=2.22,
                  borderpad=0.35, framealpha=0.8)

fig.savefig("out.png", dpi=147.8)
